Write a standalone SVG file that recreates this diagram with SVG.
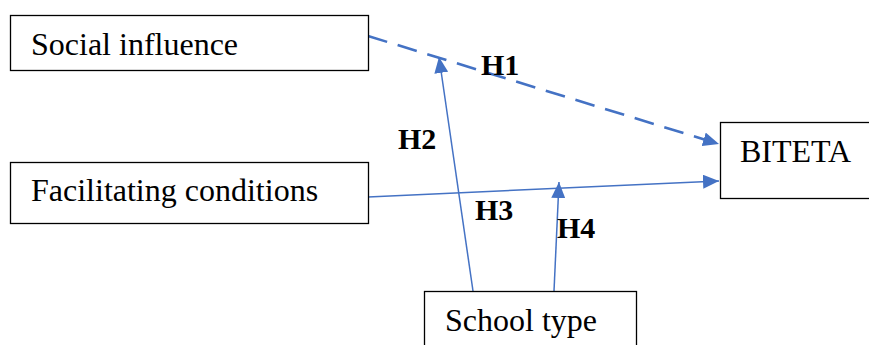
<svg xmlns="http://www.w3.org/2000/svg" width="869" height="345" viewBox="0 0 869 345">
<style>
.box{fill:#fff;stroke:#000;stroke-width:1.3}
.t{font-family:"Liberation Serif","Times New Roman",serif;font-size:32px;fill:#000}
.h{font-family:"Liberation Serif","Times New Roman",serif;font-size:30px;font-weight:bold;fill:#000}
.c{stroke:#4472C4;fill:none;stroke-width:1.5}
.d{stroke:#4472C4;fill:none;stroke-width:2.6;stroke-dasharray:20 11}
</style>
<defs>
<marker id="ah" markerUnits="userSpaceOnUse" markerWidth="18" markerHeight="14" refX="16" refY="7" orient="auto">
<path d="M0,0 L16,7 L0,14 Z" fill="#4472C4"/>
</marker>
</defs>
<rect width="869" height="345" fill="#fff"/>
<g id="connectors">
<line class="d" x1="368" y1="36" x2="719" y2="144" marker-end="url(#ah)"/>
<line class="c" x1="368" y1="197" x2="719" y2="181" marker-end="url(#ah)"/>
<line class="c" x1="473" y1="291" x2="439" y2="57" marker-end="url(#ah)"/>
<line class="c" x1="554" y1="291" x2="559" y2="182" marker-end="url(#ah)"/>
</g>
<g id="social">
<rect class="box" x="10.5" y="15.5" width="358" height="55"/>
<text class="t" x="31" y="55">Social influence</text>
</g>
<g id="facilitating">
<rect class="box" x="10.5" y="162.5" width="358" height="61"/>
<text class="t" x="31" y="201">Facilitating conditions</text>
</g>
<g id="biteta">
<rect class="box" x="720.5" y="122.5" width="160" height="76"/>
<text class="t" x="740" y="162">BITETA</text>
</g>
<g id="school">
<rect class="box" x="424.5" y="291.5" width="212" height="70"/>
<text class="t" x="445" y="331">School type</text>
</g>
<g id="labels">
<text class="h" x="481" y="75">H1</text>
<text class="h" x="398" y="149">H2</text>
<text class="h" x="475" y="220">H3</text>
<text class="h" x="557" y="238">H4</text>
</g>
</svg>
